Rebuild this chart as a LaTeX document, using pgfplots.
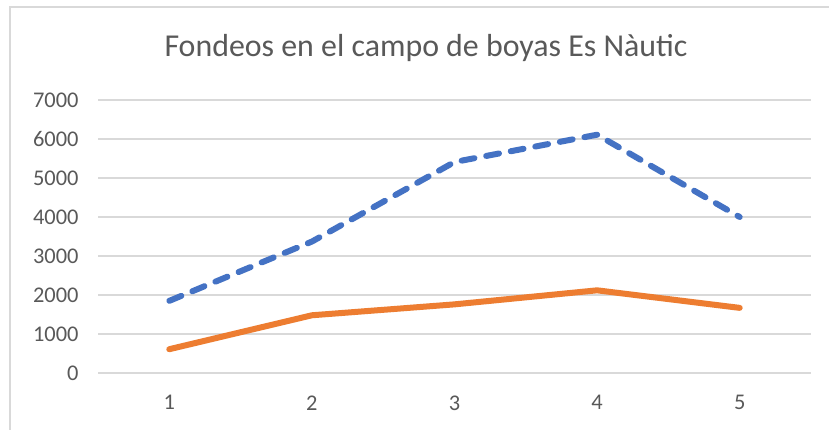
\documentclass[border=0pt]{standalone}
\usepackage{pgfplots}
\pgfplotsset{compat=1.18}
\usepackage{fontspec}
\setmainfont{Carlito}
\definecolor{txtgray}{HTML}{595959}
\definecolor{gridgray}{HTML}{D9D9D9}
\definecolor{xlblue}{HTML}{4472C4}
\definecolor{xlorange}{HTML}{ED7D31}
\begin{document}
\begin{tikzpicture}
\useasboundingbox (0,0) rectangle (829bp,430bp);
\fill[white] (0,0) rectangle (829bp,430bp);
\draw[gridgray, line width=1.2bp] (10bp,-5bp) -- (10bp,423bp) -- (840bp,423bp);
\node[text=txtgray, font=\fontsize{32}{38}\selectfont] at (426bp,382bp) {Fondeos en el campo de boyas Es Nàutic};
\begin{axis}[
  at={(98bp,57bp)}, anchor=south west,
  scale only axis, width=713bp, height=273bp,
  xmin=0.5, xmax=5.5, ymin=0, ymax=7000,
  xtick={1,2,3,4,5}, ytick={0,1000,...,7000},
  axis line style={draw=none},
  major tick length=0pt,
  ymajorgrids, grid style={gridgray, line width=1.2bp},
  /pgf/number format/assume math mode=true,
  /pgf/number format/1000 sep={},
  ticklabel style={text=txtgray, font=\fontsize{22.5}{27}\selectfont},
  yticklabel style={xshift=-16bp},
  xticklabel style={yshift=-19bp},
  clip=false,
]
\addplot[gridgray, line width=1.2bp, forget plot] coordinates {(0.5,0) (5.5,0)};
\addplot[xlblue, line width=6bp, line cap=round, line join=round, dash pattern=on 13bp off 12bp] coordinates {
 (1,1850) (2,3370) (3,5410) (4,6110) (5,4000)};
\addplot[xlorange, line width=6bp, line cap=round, line join=round] coordinates {
 (1,610) (2,1480) (3,1760) (4,2120) (5,1670)};
\end{axis}
\end{tikzpicture}
\end{document}
